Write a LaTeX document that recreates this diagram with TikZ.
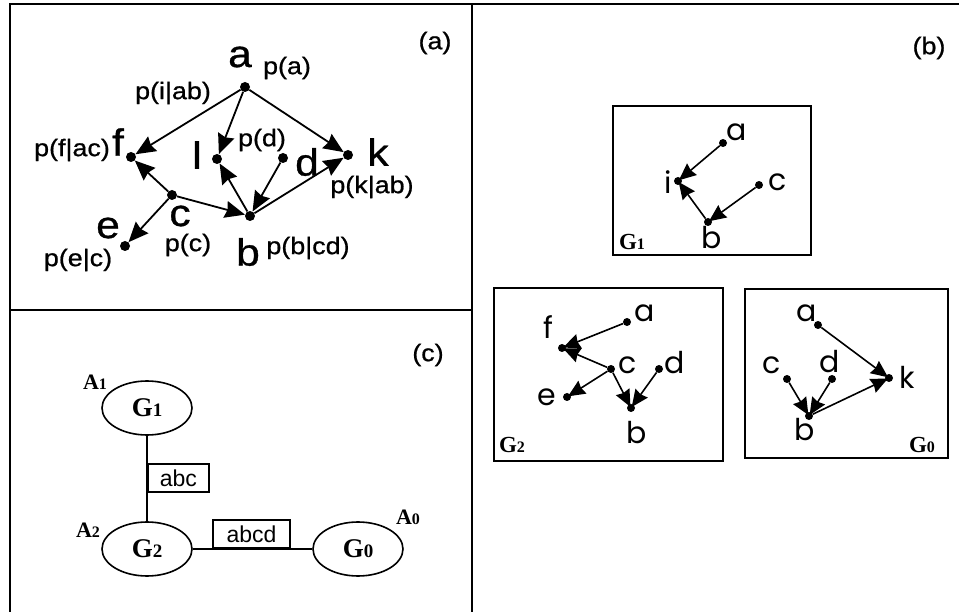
\documentclass[tikz,border=0pt]{standalone}
\usepackage{fontspec}
\setmainfont{Liberation Sans}
\newfontfamily\lblfont[FakeStretch=1.12,FakeBold=0.8]{Liberation Sans}
\newfontfamily\geofont{Poppins}
\newfontfamily\gfont{Liberation Serif}
\usetikzlibrary{arrows.meta,shapes.geometric}
\newcommand\GG[4]{{\gfont\bfseries\fontsize{#3}{#3}\selectfont #1\fontsize{#4}{#4}\selectfont #2}}
\begin{document}
\begin{tikzpicture}[x=1pt,y=-1pt,
  frame/.style={line width=2pt},
  adot/.style={circle,fill,inner sep=0pt,minimum size=10pt},
  bdot/.style={circle,fill,inner sep=0pt,minimum size=8pt},
  aedge/.style={line width=1.8pt,-{Stealth[length=20pt,width=17pt,inset=2pt]}},
  bedge/.style={line width=1.6pt,shorten >=-3pt,-{Stealth[length=17pt,width=15pt,inset=1.5pt]}},
  big/.style={inner sep=0pt,font=\lblfont\fontsize{38}{38}\selectfont},
  small/.style={inner sep=0pt,font=\lblfont\fontsize{24}{24}\selectfont},
  geo/.style={inner sep=0pt,font=\geofont\fontsize{30}{30}\selectfont},
  gbox/.style={draw,line width=1.6pt,inner sep=0pt,anchor=north west},
  ell/.style={ellipse,draw,line width=1.6pt,minimum width=90pt,minimum height=54pt,inner sep=0pt},
  sepbox/.style={draw,line width=1.6pt,inner sep=0pt,minimum height=28pt,font=\fontsize{23}{23}\selectfont},
  glab/.style={inner sep=0pt}
]
\useasboundingbox (0,0) rectangle (959,612);
% frame
\draw[frame] (10,612) -- (10,4) -- (959,4);
\draw[frame] (472,4) -- (472,612);
\draw[frame] (10,310) -- (472,310);

% ---------- panel (a)
\node[small] (alab) at (435,43) {(a)};
\node[adot] (a) at (245,87) {};
\node[adot] (f) at (131,157) {};
\node[adot] (l) at (217,159) {};
\node[adot] (d) at (283,158) {};
\node[adot] (k) at (348,155) {};
\node[adot] (c) at (172,195) {};
\node[adot] (b) at (250,216) {};
\node[adot] (e) at (125,246) {};
\draw[aedge] (a) -- (f);
\draw[aedge] (a) -- (l);
\draw[aedge] (a) -- (k);
\draw[aedge] (c) -- (f);
\draw[aedge] (c) -- (e);
\draw[aedge] (c) -- (b);
\draw[aedge] (b) -- (l);
\draw[aedge] (d) -- (b);
\draw[aedge] (b) -- (k);
\node[big] (ta) at (240,57) {a};
\node[small] (pa) at (287,68) {p(a)};
\node[small] (pi) at (173,93) {p(i|ab)};
\node[big] (tf) at (118,142) {f};
\node[small] (pf) at (72,150) {p(f|ac)};
\node[big] (tl) at (197,155) {l};
\node[small] (pd) at (262,140) {p(d)};
\node[big] (td) at (307,162) {d};
\node[big] (tk) at (378,152) {k};
\node[small] (pk) at (372,187) {p(k|ab)};
\node[big] (tc) at (180,216) {c};
\node[small] (pc) at (188,245) {p(c)};
\node[big] (te) at (108,228) {e};
\node[small] (pe) at (78,260) {p(e|c)};
\node[big] (tb) at (248,252) {b};
\node[small] (pb) at (308,248) {p(b|cd)};

% ---------- panel (b)
\node[small] (blab) at (929,48) {(b)};
% G1
\node[gbox,minimum width=198pt,minimum height=149pt] (box1) at (612,105) {};
\node[bdot] (a1) at (723,143) {};
\node[bdot] (i1) at (678,181) {};
\node[bdot] (c1) at (759,185) {};
\node[bdot] (b1) at (708,222) {};
\draw[bedge] (a1) -- (i1);
\draw[bedge] (b1) -- (i1);
\draw[bedge] (c1) -- (b1);
\node[geo] (ta1) at (737,132) {a};
\node[geo] (ti1) at (668,182) {i};
\node[geo] (tc1) at (778,182) {c};
\node[geo] (tb1) at (712,238) {b};
\node[glab] (g1lab) at (632,242) {\GG{G}{1}{23}{16}};
% G2
\node[gbox,minimum width=229pt,minimum height=173pt] (box2) at (493,287) {};
\node[bdot] (a2) at (627,322) {};
\node[bdot] (f2) at (562,348) {};
\node[bdot] (c2) at (611,369) {};
\node[bdot] (d2) at (659,369) {};
\node[bdot] (e2) at (567,397) {};
\node[bdot] (b2) at (631,408) {};
\draw[bedge] (a2) -- (f2);
\draw[bedge] (c2) -- (f2);
\draw[bedge] (c2) -- (e2);
\draw[bedge] (c2) -- (b2);
\draw[bedge] (d2) -- (b2);
\node[geo] (ta2) at (645,313) {a};
\node[geo] (tf2) at (548,327) {f};
\node[geo] (tc2) at (628,365) {c};
\node[geo] (td2) at (675,363) {d};
\node[geo] (te2) at (547,397) {e};
\node[geo] (tb2) at (637,433) {b};
\node[glab] (g2lab) at (512,445) {\GG{G}{2}{23}{16}};
% G0
\node[gbox,minimum width=203pt,minimum height=169pt] (box0) at (744,288) {};
\node[bdot] (a0) at (818,325) {};
\node[bdot] (c0) at (787,379) {};
\node[bdot] (d0) at (832,379) {};
\node[bdot] (k0) at (889,378) {};
\node[bdot] (b0) at (809,416) {};
\draw[bedge] (a0) -- (k0);
\draw[bedge] (b0) -- (k0);
\draw[bedge] (c0) -- (b0);
\draw[bedge] (d0) -- (b0);
\node[geo] (ta0) at (807,313) {a};
\node[geo] (tc0) at (772,365) {c};
\node[geo] (td0) at (830,362) {d};
\node[geo] (tk0) at (907,377) {k};
\node[geo] (tb0) at (805,430) {b};
\node[glab] (g0lab) at (922,445) {\GG{G}{0}{23}{16}};

% ---------- panel (c)
\node[small] (clab) at (428,355) {(c)};
\node[ell] (E1) at (147,408) {\GG{G}{1}{27}{19}};
\node[ell] (E2) at (147,549) {\GG{G}{2}{27}{19}};
\node[ell] (E0) at (358,549) {\GG{G}{0}{27}{19}};
\node[glab] (A1) at (95,382) {\GG{A}{1}{22}{16}};
\node[glab] (A2) at (88,530) {\GG{A}{2}{22}{16}};
\node[glab] (A0) at (408,517) {\GG{A}{0}{22}{16}};
\draw[line width=1.6pt] (E1) -- (E2);
\draw[line width=1.6pt] (E2) -- (E0);
\node[sepbox,minimum width=61pt,anchor=west] (abc) at (147,478) {abc};
\node[sepbox,minimum width=77pt,anchor=south] (abcd) at (251.5,549) {abcd};
\end{tikzpicture}
\end{document}
